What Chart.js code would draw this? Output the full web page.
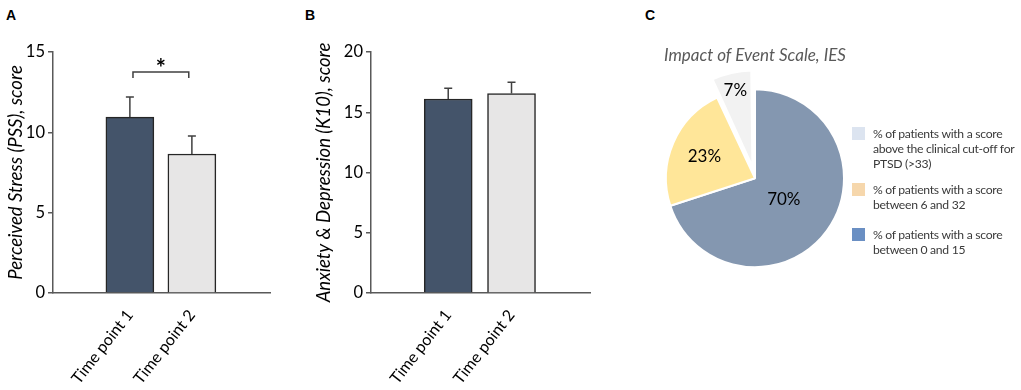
<!DOCTYPE html>
<html>
<head>
<meta charset="utf-8">
<script src="https://cdn.jsdelivr.net/npm/chart.js@4.4.0/dist/chart.umd.min.js"></script>
<style>
  html, body { margin: 0; padding: 0; background: #fff; }
  #wrap { position: relative; width: 1021px; height: 390px; overflow: hidden; font-family: Lato, "Open Sans", sans-serif; }
  canvas { position: absolute; top: 0; }
  .letter { position: absolute; top: 7px; font: bold 14px "Liberation Sans", Arial, sans-serif; color: #000; }
  #legendC { position: absolute; left: 852px; top: 126px; font-size: 12.2px; letter-spacing: -0.3px; color: #3a3a3a; }
  #legendC .item { position: relative; padding-left: 21px; line-height: 15px; white-space: pre; }
  #legendC .item + .item { margin-top: 11px; }
  #legendC .item:last-child { margin-top: 15px; }
  #legendC .sw { position: absolute; left: 0; top: 1px; width: 13px; height: 13px; }
</style>
</head>
<body>
<div id="wrap">
  <div class="letter" style="left:6px">A</div>
  <div class="letter" style="left:305px">B</div>
  <div class="letter" style="left:645px">C</div>
  <canvas id="chartA" width="280" height="390" style="left:0px"></canvas>
  <canvas id="chartB" width="320" height="390" style="left:280px"></canvas>
  <canvas id="chartC" width="270" height="300" style="left:620px"></canvas>
  <div id="legendC"></div>
</div>
<script>
// shared x categories
const timeLabels = ['Time point 1', 'Time point 2'];
const timePositions = [1, 2];

// panel A: Perceived Stress (PSS)
const pssMeans = [10.95, 8.65];
const pssErrors = [1.25, 1.12];
const pssTicks = [0, 5, 10, 15];
const pssSigPair = [1.05, 1.95];
const pssSigLevel = 13.75;
const pssSigMark = '*';

// panel B: Anxiety & Depression (K10)
const k10Means = [16.1, 16.55];
const k10Errors = [0.9, 0.95];
const k10Ticks = [0, 5, 10, 15, 20];

// panel C: Impact of Event Scale
const iesLabels = [
  '% of patients with a score\nbetween 0 and 15',
  '% of patients with a score\nbetween 6 and 32',
  '% of patients with a score\nabove the clinical cut-off for\nPTSD (>33)'
];
const iesValues = [70, 23, 7];

const barColors = ['#44546a', '#e7e6e6'];
const pieColors = ['#8497b0', '#ffe699', '#f2f2f2'];
const legendSwatches = ['#6a8fc3', '#f6d7ac', '#dce4f0'];
const axisColor = '#595959';

// error bars, upward only
const errorBars = {
  id: 'errorBars',
  afterDatasetsDraw(chart, args, opts) {
    const { ctx } = chart;
    const y = chart.scales.y;
    const meta = chart.getDatasetMeta(0);
    const data = chart.data.datasets[0].data;
    ctx.save();
    ctx.strokeStyle = '#404040';
    ctx.lineWidth = 1.5;
    opts.errors.forEach((e, i) => {
      const bar = meta.data[i];
      const top = y.getPixelForValue(data[i].y + e);
      ctx.beginPath();
      ctx.moveTo(bar.x, bar.y);
      ctx.lineTo(bar.x, top);
      ctx.moveTo(bar.x - 4, top);
      ctx.lineTo(bar.x + 4, top);
      ctx.stroke();
    });
    ctx.restore();
  }
};

// significance bracket
const sigBracket = {
  id: 'sigBracket',
  afterDatasetsDraw(chart, args, opts) {
    if (!opts.pair) return;
    const { ctx, scales: { x, y } } = chart;
    const x1 = x.getPixelForValue(opts.pair[0]);
    const x2 = x.getPixelForValue(opts.pair[1]);
    const yl = y.getPixelForValue(opts.level);
    ctx.save();
    ctx.strokeStyle = '#404040';
    ctx.lineWidth = 1.5;
    ctx.beginPath();
    ctx.moveTo(x1, yl + 6);
    ctx.lineTo(x1, yl);
    ctx.lineTo(x2, yl);
    ctx.lineTo(x2, yl + 6);
    ctx.stroke();
    ctx.fillStyle = '#000';
    ctx.font = 'bold 24px Lato';
    ctx.textAlign = 'center';
    ctx.textBaseline = 'middle';
    ctx.fillText(opts.text, (x1 + x2) / 2, yl - 3);
    ctx.restore();
  }
};

function barChart(id, means, errors, ticks, title, padLeft, axisWidth, xMin, xMax, sig) {
  return new Chart(document.getElementById(id), {
    type: 'bar',
    data: {
      datasets: [{
        data: timePositions.map((p, i) => ({ x: p, y: means[i] })),
        backgroundColor: barColors,
        borderColor: '#262626',
        borderWidth: 1.5,
        barThickness: 48
      }]
    },
    options: {
      responsive: false,
      animation: false,
      layout: { padding: { left: padLeft, top: 52, right: 10, bottom: 0 } },
      scales: {
        x: {
          type: 'linear',
          min: xMin,
          max: xMax,
          offset: false,
          afterBuildTicks: s => { s.ticks = timePositions.map(v => ({ value: v })); },
          afterFit: s => { s.height = 97; },
          grid: { display: true, drawOnChartArea: false, drawTicks: false },
          border: { display: true, color: axisColor, width: 1.5 },
          ticks: {
            autoSkip: false,
            minRotation: 52,
            maxRotation: 52,
            padding: 13,
            color: '#000',
            font: { family: 'Lato', size: 16 },
            callback: v => timeLabels[timePositions.indexOf(v)] || ''
          }
        },
        y: {
          min: ticks[0],
          max: ticks[ticks.length - 1],
          afterBuildTicks: s => { s.ticks = ticks.map(v => ({ value: v })); },
          afterFit: s => { s.width = axisWidth; },
          grid: { display: true, drawOnChartArea: false, drawTicks: true, tickLength: 5, color: axisColor, lineWidth: 1.5 },
          border: { display: true, color: axisColor, width: 1.5 },
          ticks: { padding: 3, color: '#000', font: { family: 'Lato', size: 16.5 } },
          title: {
            display: true,
            text: title,
            color: '#000',
            font: { family: 'Lato', size: 18.5, style: 'italic' },
            padding: { top: 5, bottom: 0 }
          }
        }
      },
      plugins: {
        legend: { display: false },
        tooltip: { enabled: false },
        errorBars: { errors: errors },
        sigBracket: sig || {}
      }
    },
    plugins: [errorBars, sigBracket]
  });
}

barChart('chartA', pssMeans, pssErrors, pssTicks, 'Perceived Stress (PSS), score', 0, 53, -0.24, 3.26,
  { pair: pssSigPair, level: pssSigLevel, text: pssSigMark });
barChart('chartB', k10Means, k10Errors, k10Ticks, 'Anxiety & Depression (K10), score', 28, 63, -0.22, 3.24, null);

// percentage labels on the pie
const sliceLabels = {
  id: 'sliceLabels',
  afterDatasetsDraw(chart, args, opts) {
    const { ctx } = chart;
    const meta = chart.getDatasetMeta(0);
    const values = chart.data.datasets[0].data;
    const total = values.reduce((a, b) => a + b, 0);
    ctx.save();
    ctx.fillStyle = '#000';
    ctx.font = '17px Lato';
    ctx.textAlign = 'center';
    ctx.textBaseline = 'middle';
    meta.data.forEach((arc, i) => {
      const p = arc.getProps(['x', 'y', 'startAngle', 'endAngle', 'outerRadius'], true);
      const mid = (p.startAngle + p.endAngle) / 2;
      const shift = (arc.options.offset || 0) / 4;
      const r = p.outerRadius * opts.radiusFactor[i] + shift;
      ctx.fillText(Math.round(values[i] / total * 100) + '%', p.x + Math.cos(mid) * r, p.y + Math.sin(mid) * r);
    });
    ctx.restore();
  }
};

new Chart(document.getElementById('chartC'), {
  type: 'pie',
  data: {
    labels: iesLabels,
    datasets: [{
      data: iesValues,
      backgroundColor: pieColors,
      borderColor: '#fff',
      borderWidth: 2,
      offset: [0, 0, 48],
      radius: 89
    }]
  },
  options: {
    responsive: false,
    animation: false,
    layout: { padding: { bottom: 19 } },
    plugins: {
      legend: { display: false },
      tooltip: { enabled: false },
      title: {
        display: true,
        text: 'Impact of Event Scale, IES',
        color: '#595959',
        font: { family: 'Lato', size: 17, style: 'italic', weight: 'normal' },
        padding: { top: 45, bottom: 10 }
      },
      sliceLabels: { radiusFactor: [0.4, 0.62, 0.88] }
    }
  },
  plugins: [sliceLabels]
});

// legend for panel C, listed top to bottom in reverse order
const legend = document.getElementById('legendC');
iesLabels.map((t, i) => i).reverse().forEach(i => {
  const item = document.createElement('div');
  item.className = 'item';
  const sw = document.createElement('span');
  sw.className = 'sw';
  sw.style.background = legendSwatches[i];
  item.appendChild(sw);
  item.appendChild(document.createTextNode(iesLabels[i]));
  legend.appendChild(item);
});
</script>
</body>
</html>
